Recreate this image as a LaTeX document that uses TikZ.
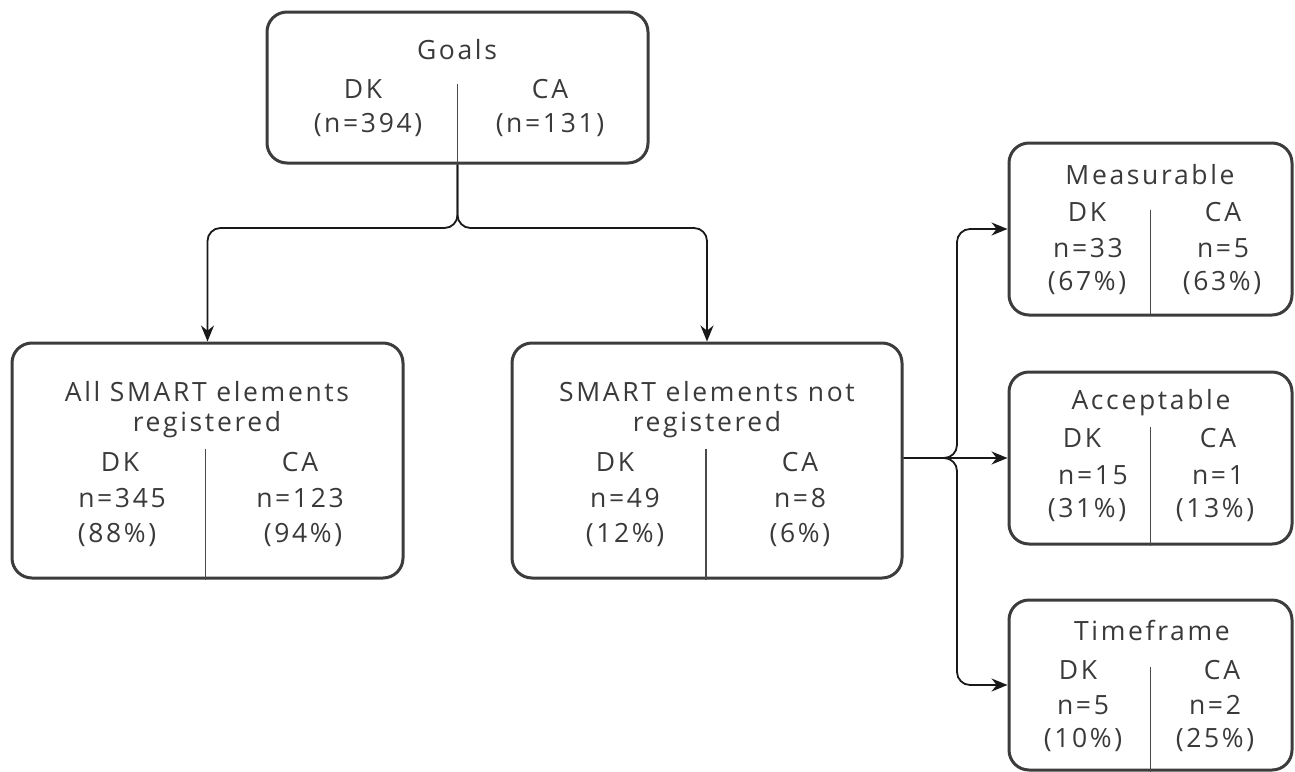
\documentclass[tikz,border=0pt]{standalone}
\usepackage{fontspec}
\setmainfont[LetterSpace=10]{Open Sans}
\usetikzlibrary{arrows.meta}
\definecolor{boxc}{HTML}{3C3C3C}
\definecolor{txtc}{HTML}{3A3A3A}
\definecolor{divc}{HTML}{4A4A4A}
\begin{document}
\begin{tikzpicture}[x=1pt,y=-1pt,
  box/.style={draw=boxc, line width=3pt, rounded corners=20pt, inner sep=0pt},
  txt/.style={text=txtc, font=\fontsize{26.5}{30}\selectfont, inner sep=0pt, anchor=center},
  div/.style={draw=divc, line width=1.5pt},
  conn/.style={draw=black!90, line width=1.8pt, rounded corners=13pt},
  arr/.style={conn, -{Stealth[length=16pt,width=13pt]}}]
\useasboundingbox (0,0) rectangle (1295,771);
% boxes
\node[box, minimum width=381pt, minimum height=151pt] (goals) at (457.5,87.5) {};
\node[box, minimum width=391pt, minimum height=235pt] (allsm) at (207.5,460.5) {};
\node[box, minimum width=390pt, minimum height=235pt] (notreg) at (707,460.5) {};
\node[box, minimum width=283pt, minimum height=172pt] (meas) at (1150.5,229) {};
\node[box, minimum width=283pt, minimum height=172pt] (acc) at (1150.5,458) {};
\node[box, minimum width=283pt, minimum height=170pt] (time) at (1150.5,685) {};
% dividers
\draw[div] ([yshift=81pt]goals.south) -- (goals.south);
\draw[div] ([xshift=-2pt,yshift=131pt]allsm.south) -- ([xshift=-2pt]allsm.south);
\draw[div] ([xshift=-1pt,yshift=131pt]notreg.south) -- ([xshift=-1pt]notreg.south);
\draw[div] ([yshift=107pt]meas.south) -- ([yshift=3pt]meas.south);
\draw[div] ([yshift=119pt]acc.south) -- (acc.south);
\draw[div] ([yshift=105pt]time.south) -- (time.south);
% texts: Goals
\node[txt] (g0) at (457,50) {Goals};
\node[txt] (g1) at (363,89) {DK};
\node[txt] (g2) at (368,125) {(n=394)};
\node[txt] (g3) at (550,89) {CA};
\node[txt] (g4) at (550,125) {(n=131)};
% All SMART
\node[txt] (a0) at (207,392) {All SMART elements};
\node[txt] (a1) at (207,425) {registered};
\node[txt] (a2) at (120,462) {DK};
\node[txt] (a3) at (122,498) {n=345};
\node[txt] (a4) at (117,535) {(88\%)};
\node[txt] (a5) at (300,462) {CA};
\node[txt] (a6) at (300,498) {n=123};
\node[txt] (a7) at (303,535) {(94\%)};
% not registered
\node[txt] (b0) at (707,392) {SMART elements not};
\node[txt] (b1) at (707,425) {registered};
\node[txt] (b2) at (615,462) {DK};
\node[txt] (b3) at (625,498) {n=49};
\node[txt] (b4) at (625,535) {(12\%)};
\node[txt] (b5) at (800,462) {CA};
\node[txt] (b6) at (800,498) {n=8};
\node[txt] (b7) at (800,535) {(6\%)};
% Measurable
\node[txt] (m0) at (1150,175) {Measurable};
\node[txt] (m1) at (1087,212) {DK};
\node[txt] (m2) at (1088,248) {n=33};
\node[txt] (m3) at (1087,283) {(67\%)};
\node[txt] (m4) at (1223,212) {CA};
\node[txt] (m5) at (1223,248) {n=5};
\node[txt] (m6) at (1222,283) {(63\%)};
% Acceptable
\node[txt] (c0) at (1151,403) {Acceptable};
\node[txt] (c1) at (1082,438) {DK};
\node[txt] (c2) at (1093,475) {n=15};
\node[txt] (c3) at (1087,510) {(31\%)};
\node[txt] (c4) at (1218,438) {CA};
\node[txt] (c5) at (1218,475) {n=1};
\node[txt] (c6) at (1215,510) {(13\%)};
% Timeframe
\node[txt] (t0) at (1152,630) {Timeframe};
\node[txt] (t1) at (1078,670) {DK};
\node[txt] (t2) at (1083,705) {n=5};
\node[txt] (t3) at (1083,740) {(10\%)};
\node[txt] (t4) at (1222,670) {CA};
\node[txt] (t5) at (1215,705) {n=2};
\node[txt] (t6) at (1215,740) {(25\%)};
% connectors
\coordinate (j1) at (457.5,228);
\coordinate (j2) at (957,458);
\draw[arr] (goals.south) -- (j1) -| (allsm.north);
\draw[arr] (goals.south) -- (j1) -| (notreg.north);
\draw[arr] (notreg.east |- acc.west) -- (acc.west);
\draw[arr] (notreg.east |- acc.west) -- (j2) |- (meas.west);
\draw[arr] (notreg.east |- acc.west) -- (j2) |- (time.west);
\end{tikzpicture}
\end{document}
